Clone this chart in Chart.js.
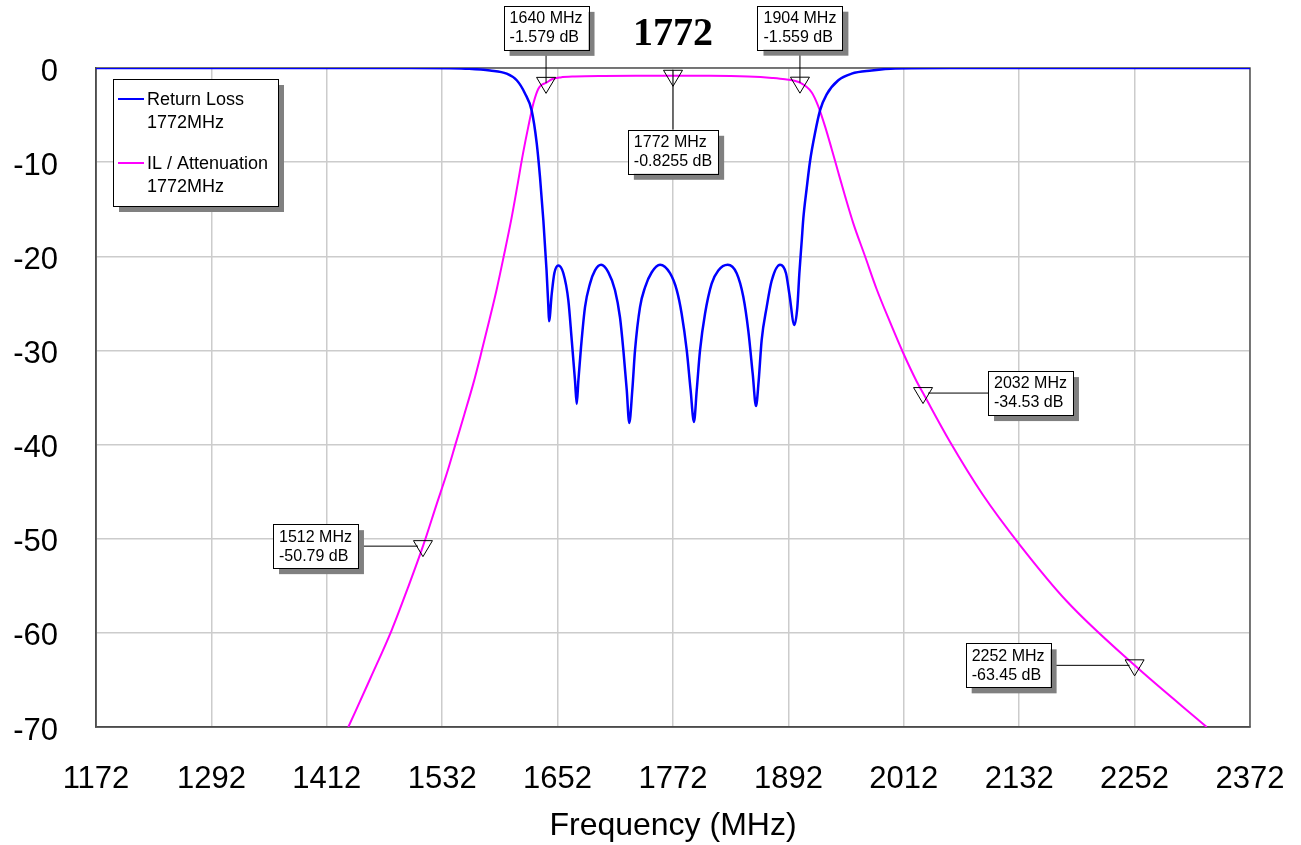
<!DOCTYPE html>
<html>
<head>
<meta charset="utf-8">
<title>1772</title>
<script src="https://cdn.jsdelivr.net/npm/chart.js@4.4.0/dist/chart.umd.min.js"></script>
<style>
    body { margin:0; background:#fff; }
    #wrap { width:1301px; height:845px; }
</style>
</head>
<body>
<div id="wrap"><canvas id="filter_chart" width="1301" height="845"></canvas></div>
<script>
const chartTitle = "1772";
const xTitle = "Frequency (MHz)";
const xTicks = [1172, 1292, 1412, 1532, 1652, 1772, 1892, 2012, 2132, 2252, 2372];
const yTicks = [0, -10, -20, -30, -40, -50, -60, -70];

const seriesNames = ["Return Loss", "IL / Attenuation"];
const seriesSub = ["1772MHz", "1772MHz"];
const seriesColors = ["#0000ff", "#ff00ff"];

// return loss (S11), MHz / dB
const rlFreq = [1172, 1500, 1540, 1560, 1581.7, 1599, 1609.5, 1618.1, 1625, 1630.3, 1633.7, 1637.2, 1640.5, 1642.4, 1643.1,
    1645.9, 1648.6, 1652.8, 1658, 1663.2, 1666.7, 1670.1, 1671.9, 1673.6, 1676.4, 1680.5, 1685.7, 1690.9, 1697.2,
    1704.8, 1711.7, 1716.9, 1720.4, 1723.9, 1726.5, 1729.7, 1732.5, 1737.7, 1742.9, 1749.9, 1758.5,
    1768.9, 1775.9, 1781, 1786.3, 1790.3, 1793.8, 1796.7, 1800.1, 1805.3, 1812.2, 1819.1, 1828.9,
    1838.2, 1845.1, 1850.3, 1854.9, 1858.3, 1861.1, 1864.2, 1869.4, 1874.6, 1883.3, 1889.5, 1893, 1898.2,
    1901.3, 1903.4, 1905.9, 1907.5, 1911, 1914.5, 1919.7, 1924.9, 1931.8, 1943.9, 1957.8, 1978.6, 2002.9, 2060, 2372];
const rlDb = [0, 0, -0.02, -0.08, -0.27, -0.6, -1.3, -2.7, -4.5, -8.0, -11.6, -16.2, -21.5, -25.4, -26.9,
    -24.0, -21.8, -20.97, -21.8, -24.7, -28.9, -33.2, -35.7, -33.2, -29.6, -25.4, -22.9, -21.5, -20.9,
    -21.7, -23.6, -26.5, -30.0, -34.2, -37.7, -34.2, -30.0, -25.4, -23.3, -21.7, -20.9,
    -21.8, -23.6, -26.1, -30.0, -34.2, -37.6, -34.2, -30.0, -26.1, -22.9, -21.5, -20.9,
    -21.8, -24.3, -27.9, -32.5, -35.9, -33.2, -28.9, -25.4, -22.6, -20.9, -21.8, -24.0, -27.3,
    -25.4, -21.8, -18.3, -16.0, -12.8, -9.9, -6.9, -4.5, -2.8, -1.3, -0.6, -0.27, -0.05, 0, 0];

// insertion loss / attenuation (S21)
const ilFreq = [1434.4, 1457, 1479.5, 1496, 1512, 1526, 1537, 1546, 1555, 1564.4, 1573, 1581, 1588.7, 1596,
    1604, 1610, 1616, 1621.6, 1627, 1632, 1636, 1640, 1646, 1655, 1670, 1700, 1740, 1772, 1810, 1850,
    1875, 1888.5, 1904, 1916.3, 1923.2, 1930.1, 1937, 1943.9, 1950.9, 1959.5, 1971.7, 1983.8, 1997.7,
    2011.5, 2025.4, 2032, 2060, 2094, 2133, 2182, 2252, 2327];
const ilDb = [-70, -64.9, -59.7, -55.3, -50.79, -46.4, -43.0, -39.9, -36.8, -33.5, -30.1, -26.8, -23.5, -20.0,
    -16.0, -12.6, -9.1, -6.2, -3.7, -2.2, -1.75, -1.579, -1.2, -1.0, -0.9, -0.84, -0.82, -0.8255, -0.83, -0.9,
    -1.05, -1.2, -1.559, -2.6, -4.1, -6.2, -8.6, -11.1, -13.6, -16.5, -20.0, -23.5, -27.0,
    -30.3, -33.3, -34.53, -39.7, -45.3, -50.7, -56.7, -63.45, -70];

// markers
const markerFreq = [1640, 1772, 1904, 1512, 2032, 2252];
const markerDb = [-1.579, -0.8255, -1.559, -50.79, -34.53, -63.45];
const markerSide = ["up", "down", "up", "left", "right", "left"];
const markerGap = [33, 54, 33, 65, 65, 84];

const fontSans = "'Liberation Sans', Arial, sans-serif";

function toPoints(xs, ys) {
    return xs.map((x, i) => ({x: x, y: ys[i]}));
}

const overlay = {
    id: "overlay",
    beforeDatasetsDraw(chart) {
        let ctx = chart.ctx;
        let a = chart.chartArea;
        ctx.save();
        ctx.strokeStyle = "#555";
        ctx.lineWidth = 1.5;
        ctx.strokeRect(a.left, a.top, a.right - a.left, a.bottom - a.top);
        ctx.restore();
    },
    afterDatasetsDraw(chart) {
        let ctx = chart.ctx;
        let xs = chart.scales.x;
        let ys = chart.scales.y;
        ctx.save();

        // markers
        ctx.font = "16px " + fontSans;
        markerFreq.forEach((f, i) => {
            let px = xs.getPixelForValue(f);
            let py = ys.getPixelForValue(markerDb[i]);
            let lines = [f + " MHz", markerDb[i] + " dB"];
            let w = Math.max(...lines.map(t => ctx.measureText(t).width)) + 12;
            let h = 44;
            let bx, by;
            let side = markerSide[i];
            if (side == "up") { bx = px - w / 2; by = py - markerGap[i] - h; }
            else if (side == "down") { bx = px - w / 2; by = py + markerGap[i]; }
            else if (side == "left") { bx = px - markerGap[i] - w; by = py - h / 2; }
            else { bx = px + markerGap[i]; by = py - h / 2; }

            ctx.strokeStyle = "#000";
            ctx.lineWidth = 1;
            ctx.beginPath();
            if (side == "up") { ctx.moveTo(px, by + h); ctx.lineTo(px, py); }
            else if (side == "down") { ctx.moveTo(px, by); ctx.lineTo(px, py - 5.5); }
            else if (side == "left") { ctx.moveTo(bx + w, py); ctx.lineTo(px - 5, py); }
            else { ctx.moveTo(bx, py); ctx.lineTo(px + 5, py); }
            ctx.stroke();

            ctx.beginPath();
            ctx.moveTo(px - 9.5, py - 5.5);
            ctx.lineTo(px + 9.5, py - 5.5);
            ctx.lineTo(px, py + 10.5);
            ctx.closePath();
            ctx.stroke();

            ctx.fillStyle = "#808080";
            ctx.fillRect(bx + 6, by + 6, w, h);
            ctx.fillStyle = "#fff";
            ctx.fillRect(bx, by, w, h);
            ctx.strokeRect(Math.round(bx) + 0.5, Math.round(by) + 0.5, Math.round(w), h);
            ctx.fillStyle = "#000";
            ctx.textBaseline = "middle";
            ctx.textAlign = "left";
            ctx.fillText(lines[0], bx + 6, by + 13);
            ctx.fillText(lines[1], bx + 6, by + 32);
        });

        // legend box
        let lx = 113, ly = 79, lw = 165, lh = 127;
        ctx.fillStyle = "#808080";
        ctx.fillRect(lx + 6, ly + 6, lw, lh);
        ctx.fillStyle = "#fff";
        ctx.fillRect(lx, ly, lw, lh);
        ctx.strokeStyle = "#000";
        ctx.lineWidth = 1;
        ctx.strokeRect(lx + 0.5, ly + 0.5, lw, lh);
        ctx.font = "18px " + fontSans;
        ctx.textBaseline = "middle";
        ctx.textAlign = "left";
        seriesNames.forEach((name, i) => {
            let y0 = ly + 20 + i * 64;
            ctx.strokeStyle = seriesColors[i];
            ctx.lineWidth = 2;
            ctx.beginPath();
            ctx.moveTo(lx + 5, y0);
            ctx.lineTo(lx + 31, y0);
            ctx.stroke();
            ctx.fillStyle = "#000";
            ctx.fillText(name, lx + 34, y0 + 1);
            ctx.fillText(seriesSub[i], lx + 34, y0 + 24);
        });

        // title
        ctx.font = "bold 40px 'Liberation Serif', 'Times New Roman', serif";
        ctx.textAlign = "center";
        ctx.fillText(chartTitle, 673, 35);
        ctx.restore();
    }
};

let filterChart = new Chart(document.getElementById("filter_chart"), {
    type: "line",
    data: {
        datasets: [
            {
                label: seriesNames[0],
                data: toPoints(rlFreq, rlDb),
                borderColor: seriesColors[0],
                borderWidth: 2.5,
                pointRadius: 0,
                cubicInterpolationMode: "monotone"
            },
            {
                label: seriesNames[1],
                data: toPoints(ilFreq, ilDb),
                borderColor: seriesColors[1],
                borderWidth: 2,
                pointRadius: 0,
                cubicInterpolationMode: "monotone"
            }
        ]
    },
    options: {
        responsive: false,
        animation: false,
        layout: { padding: { left: 0, top: 68, right: 51, bottom: 0 } },
        plugins: {
            legend: { display: false },
            tooltip: { enabled: false }
        },
        scales: {
            x: {
                type: "linear",
                min: 1172,
                max: 2372,
                afterBuildTicks: s => { s.ticks = xTicks.map(v => ({value: v})); },
                afterFit: s => { s.height = 118; s.paddingLeft = 0; s.paddingRight = 0; },
                grid: { color: "#cccccc", lineWidth: 1.5, drawTicks: false },
                border: { color: "#333", width: 1.5 },
                ticks: {
                    padding: 34,
                    color: "#000",
                    maxRotation: 0,
                    font: { family: fontSans, size: 31 },
                    callback: v => String(v)
                },
                title: {
                    display: true,
                    text: xTitle,
                    color: "#000",
                    font: { family: fontSans, size: 32 },
                    padding: { top: 0, bottom: 0 }
                }
            },
            y: {
                type: "linear",
                min: -70,
                max: 0,
                afterBuildTicks: s => { s.ticks = yTicks.map(v => ({value: v})); },
                afterFit: s => { s.width = 96; s.paddingTop = 0; s.paddingBottom = 0; },
                grid: { color: "#cccccc", lineWidth: 1.5, drawTicks: false },
                border: { color: "#333", width: 1.5 },
                ticks: {
                    padding: 38,
                    labelOffset: 4,
                    color: "#000",
                    font: { family: fontSans, size: 31 },
                    callback: v => String(v)
                }
            }
        }
    },
    plugins: [overlay]
});
</script>
</body>
</html>
